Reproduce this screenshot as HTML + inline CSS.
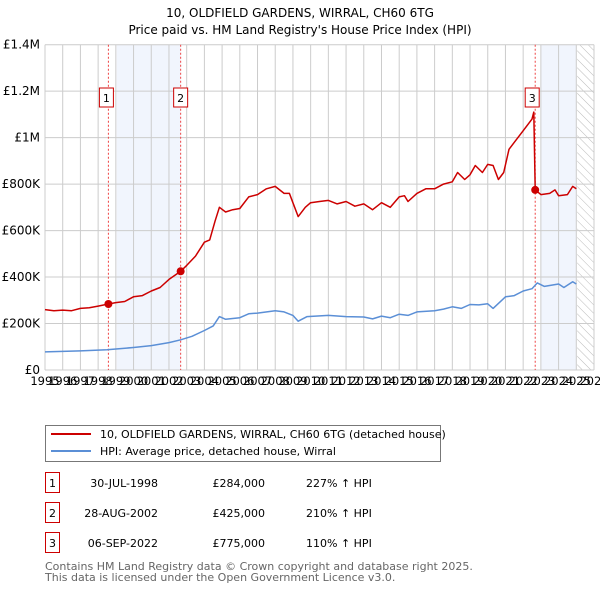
<!DOCTYPE html>
<html><head><meta charset="utf-8"><style>
body{margin:0;background:#fff;font-family:"Liberation Sans","DejaVu Sans",sans-serif;}
svg text{font-family:"DejaVu Sans","Liberation Sans",sans-serif;}
</style></head><body>
<svg id="c" width="600" height="590" xmlns="http://www.w3.org/2000/svg"></svg>
<script>
const yTicks=[0,200000,400000,600000,800000,1000000,1200000,1400000];
const yTickLabels=["£0","£200K","£400K","£600K","£800K","£1M","£1.2M","£1.4M"];
const xYears=[1995,1996,1997,1998,1999,2000,2001,2002,2003,2004,2005,2006,2007,2008,2009,2010,2011,2012,2013,2014,2015,2016,2017,2018,2019,2020,2021,2022,2023,2024,2025,2026];
const redYears=[1995,1995.5,1996,1996.5,1997,1997.5,1998,1998.58,1999,1999.5,2000,2000.5,2001,2001.5,2002,2002.66,2003,2003.5,2004,2004.3,2004.6,2004.85,2005.2,2005.6,2006,2006.5,2007,2007.5,2008,2008.5,2008.8,2009,2009.3,2009.7,2010,2010.5,2011,2011.5,2012,2012.5,2013,2013.5,2014,2014.5,2015,2015.3,2015.5,2016,2016.5,2017,2017.5,2018,2018.3,2018.7,2019,2019.3,2019.7,2020,2020.3,2020.6,2020.9,2021.2,2021.5,2022,2022.5,2022.6,2022.68,2023,2023.5,2023.8,2024,2024.5,2024.8,2025];
const redValues=[260,255,258,255,265,268,275,284,290,295,315,320,340,355,390,425,450,490,550,560,640,700,680,690,695,745,755,780,790,760,760,720,660,700,720,725,730,715,725,705,715,690,720,700,745,750,725,760,780,780,800,810,850,820,840,880,850,885,880,820,850,950,980,1030,1080,1110,775,755,760,775,750,755,790,780];
const hpiYears=[1995,1997,1998.5,2000,2001,2002,2002.66,2003.3,2004,2004.5,2004.85,2005.2,2006,2006.5,2007,2008,2008.5,2009,2009.3,2009.8,2011,2012,2013,2013.5,2014,2014.5,2015,2015.5,2016,2017,2017.5,2018,2018.5,2019,2019.5,2020,2020.3,2021,2021.5,2022,2022.5,2022.8,2023.2,2024,2024.3,2024.8,2025];
const hpiValues=[78,82,87,97,105,118,130,145,170,190,230,218,225,242,245,255,250,235,210,230,235,230,228,220,232,225,240,235,250,255,262,272,265,282,280,285,265,315,320,340,350,375,360,370,355,380,370];
const saleLabels=["1","2","3"];
const saleYears=[1998.58,2002.66,2022.68];
const salePrices=[284000,425000,775000];
const saleDates=["30-JUL-1998","28-AUG-2002","06-SEP-2022"];
const salePriceText=["£284,000","£425,000","£775,000"];
const saleHpi=["227% ↑ HPI","210% ↑ HPI","110% ↑ HPI"];

const L=45,R=594,T=44.7,B=370;
const x=y=>L+(y-1995)/(2026-1995)*(R-L);
const yv=v=>B-v/1400000*(B-T);
const s=document.getElementById('c');const NS="http://www.w3.org/2000/svg";
function mk(t,a,p){const e=document.createElementNS(NS,t);for(const k in a)e.setAttribute(k,a[k]);(p||s).appendChild(e);return e;}
function tx(str,a,name){const e=mk('text',a);e.textContent=str;

return e;}
let e;
tx("10, OLDFIELD GARDENS, WIRRAL, CH60 6TG",{x:300,y:17,'text-anchor':'middle','font-size':12,fill:'#000'},'chart-title');
tx("Price paid vs. HM Land Registry's House Price Index (HPI)",{x:300,y:34,'text-anchor':'middle','font-size':12,fill:'#000'},'chart-subtitle');
e=mk('rect',{x:x(1999.05),y:T,width:x(2002.66)-x(1999.05),height:B-T,fill:'#eef3fc',opacity:0.8});


e=mk('rect',{x:x(2023.0),y:T,width:x(2025.0)-x(2023.0),height:B-T,fill:'#eef3fc',opacity:0.8});


const defs=mk('defs',{});const pat=mk('pattern',{id:'h',width:6,height:6,patternUnits:'userSpaceOnUse',patternTransform:'rotate(-45)'},defs);
mk('line',{x1:0,y1:0,x2:0,y2:6,stroke:'#bbb','stroke-width':1},pat);
e=mk('rect',{x:x(2025.05),y:T,width:R-x(2025.05),height:B-T,fill:'url(#h)'});


xYears.forEach((yr,i)=>{e=mk('line',{x1:x(yr),x2:x(yr),y1:T,y2:B,stroke:'#ccc','stroke-width':1});


tx(String(yr),{x:x(yr),y:385,'text-anchor':'middle','font-size':11.5,'font-family':'Liberation Sans, sans-serif',fill:'#000'},'x-tick-label');});
yTicks.forEach((v,i)=>{e=mk('line',{x1:L,x2:R,y1:yv(v),y2:yv(v),stroke:'#ccc','stroke-width':1});


tx(yTickLabels[i],{x:40,y:yv(v)+4,'text-anchor':'end','font-size':12,fill:'#000'},'y-tick-label');});
saleYears.forEach((yr,i)=>{e=mk('line',{x1:x(yr),x2:x(yr),y1:T,y2:B,stroke:'#e44','stroke-width':1,'stroke-dasharray':'2,2'});


const g=mk('g',{});

const off=(i==2?3:(i==0?2:0));
mk('rect',{x:x(yr)-7-off,y:88,width:14,height:19,fill:'#fff',stroke:'#c00','stroke-width':1},g);
const t=mk('text',{x:x(yr)-off,y:102,'text-anchor':'middle','font-size':11,fill:'#000'},g);t.textContent=saleLabels[i];});
function path(xs,vs,col,name){const d=xs.map((yr,i)=>(i?'L':'M')+x(yr).toFixed(1)+','+yv(vs[i]*1000).toFixed(1)).join('');
e=mk('path',{d:d,fill:'none',stroke:col,'stroke-width':1.5,'stroke-linejoin':'round'});

}
path(hpiYears,hpiValues,'#5b8fd6','hpi-line');
path(redYears,redValues,'#cc0000','price-paid-line');
saleYears.forEach((yr,i)=>{e=mk('circle',{cx:x(yr),cy:yv(salePrices[i]),r:4,fill:'#cc0000'});

});
e=mk('rect',{x:45.5,y:425.5,width:395,height:36,fill:'#fff',stroke:'#777','stroke-width':1});


e=mk('line',{x1:51,x2:91,y1:434,y2:434,stroke:'#cc0000','stroke-width':2});


e=mk('line',{x1:51,x2:91,y1:451,y2:451,stroke:'#5b8fd6','stroke-width':2});


tx("10, OLDFIELD GARDENS, WIRRAL, CH60 6TG (detached house)",{x:100,y:438,'font-size':11,fill:'#000'},'legend-entry-price');
tx("HPI: Average price, detached house, Wirral",{x:100,y:455,'font-size':11,fill:'#000'},'legend-entry-hpi');
saleLabels.forEach((lb,i)=>{const ry=483+i*30;
e=mk('rect',{x:45.5,y:ry-10.5,width:14,height:20,fill:'#fff',stroke:'#c00','stroke-width':1});


tx(lb,{x:52.5,y:ry+4,'text-anchor':'middle','font-size':11,fill:'#000'},'table-badge-number');
tx(saleDates[i],{x:158,y:ry+4,'text-anchor':'end','font-size':11,fill:'#000'},'table-date');
tx(salePriceText[i],{x:265,y:ry+4,'text-anchor':'end','font-size':11,fill:'#000'},'table-price');
tx(saleHpi[i],{x:306,y:ry+4,'font-size':11,fill:'#000'},'table-hpi-change');});
tx("Contains HM Land Registry data © Crown copyright and database right 2025.",{x:45,y:570,'font-size':11,fill:'#666'},'footer-line-1');
tx("This data is licensed under the Open Government Licence v3.0.",{x:45,y:581,'font-size':11,fill:'#666'},'footer-line-2');
</script>
</body></html>
